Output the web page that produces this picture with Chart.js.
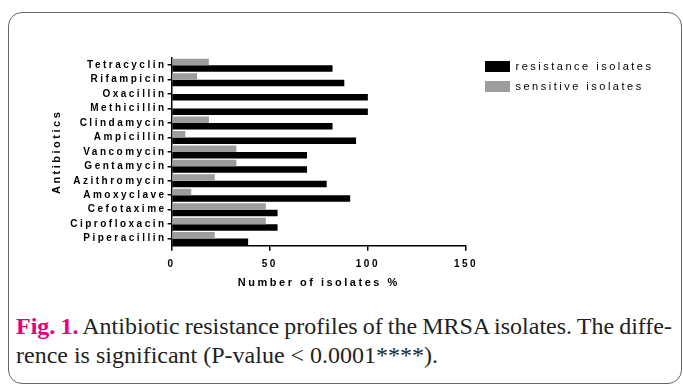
<!DOCTYPE html>
<html>
<head>
<meta charset="utf-8">
<script src="https://cdn.jsdelivr.net/npm/chart.js@4.4.1/dist/chart.umd.min.js"></script>
<style>
  body { margin: 0; background: #fff; width: 683px; height: 385px; overflow: hidden; position: relative; }
  #frame { position: absolute; left: 8px; top: 12px; width: 672px; height: 370px; border: 1px solid #666; border-radius: 14px; }
  #wrap { position: absolute; left: 0; top: 0; width: 683px; height: 300px; }
  #caption { position: absolute; left: 16px; top: 312px; width: 656px; font-family: "Liberation Serif", "Times New Roman", serif; font-size: 24px; line-height: 29px; color: #231f20; white-space: nowrap; }
  #caption .l1 { text-align: justify; text-align-last: justify; word-spacing: -3px; }
  #caption b { color: #e6007e; }
</style>
</head>
<body>
<div id="frame"></div>
<div id="wrap"><canvas id="chart"></canvas></div>
<div id="caption">
  <div class="l1"><b>Fig. 1.</b> Antibiotic resistance profiles of the MRSA isolates. The diffe-</div>
  <div>rence is significant (P-value &lt; 0.0001****).</div>
</div>
<script>
const antibiotics = ['Tetracyclin', 'Rifampicin', 'Oxacillin', 'Methicillin', 'Clindamycin', 'Ampicillin',
  'Vancomycin', 'Gentamycin', 'Azithromycin', 'Amoxyclave', 'Cefotaxime', 'Ciprofloxacin', 'Piperacillin'];
const resistance = [82, 88, 100, 100, 82, 94, 69, 69, 79, 91, 54, 54, 39];
const sensitive = [19, 13, 0, 0, 19, 7, 33, 33, 22, 10, 48, 48, 22];
const xTicks = [0, 50, 100, 150];

const font = '"Liberation Sans", Arial, sans-serif';

// the figure uses widely spaced letters everywhere
const spacing = {
  id: 'spacing',
  beforeUpdate(chart) { chart.ctx.letterSpacing = '2.5px'; },
  beforeDraw(chart) { chart.ctx.letterSpacing = '2.5px'; },
  // legend sits right of the plot, wider than chart.js lets a side box be
  afterLayout(chart) {
    const lg = chart.legend;
    lg.left = 476;
    lg.right = chart.width;
    lg.width = lg.right - lg.left;
    lg.top = 52;
  }
};

new Chart(document.getElementById('chart'), {
  type: 'bar',
  data: {
    labels: antibiotics,
    datasets: [
      { label: 'sensitive isolates', data: sensitive, backgroundColor: '#9d9d9f' },
      { label: 'resistance isolates', data: resistance, backgroundColor: '#000000' }
    ]
  },
  plugins: [spacing],
  options: {
    indexAxis: 'y',
    responsive: true,
    maintainAspectRatio: false,
    animation: false,
    categoryPercentage: 0.9,
    barPercentage: 1,
    layout: { padding: { left: 50, top: 58, right: 82, bottom: 8 } },
    scales: {
      x: {
        min: 0,
        max: 150,
        afterBuildTicks: (axis) => { axis.ticks = xTicks.map((v) => ({ value: v })); },
        grid: { drawOnChartArea: false, color: '#000', lineWidth: 1.5, tickLength: 5 },
        border: { color: '#000', width: 1.5 },
        ticks: { color: '#000', font: { family: font, size: 10, weight: 'bold' }, padding: 7, maxRotation: 0 },
        title: { display: true, text: 'Number of isolates %', color: '#000', font: { family: font, size: 11, weight: 'bold' }, padding: { top: 0, bottom: 2 } }
      },
      y: {
        grid: { drawOnChartArea: false, offset: false, color: '#000', lineWidth: 1.5, tickLength: 4 },
        border: { color: '#000', width: 1.5 },
        ticks: { color: '#000', font: { family: font, size: 10, weight: 'bold' }, padding: 1, autoSkip: false },
        title: { display: true, text: 'Antibiotics', color: '#000', font: { family: font, size: 11, weight: 'bold' }, padding: { top: 0, bottom: 6 } }
      }
    },
    plugins: {
      legend: {
        position: 'right',
        align: 'start',
        reverse: true,
        maxWidth: 135,
        labels: { color: '#000', boxWidth: 25, boxHeight: 11, padding: 9, font: { family: font, size: 11 } }
      },
      tooltip: { enabled: false }
    }
  }
});
</script>
</body>
</html>
